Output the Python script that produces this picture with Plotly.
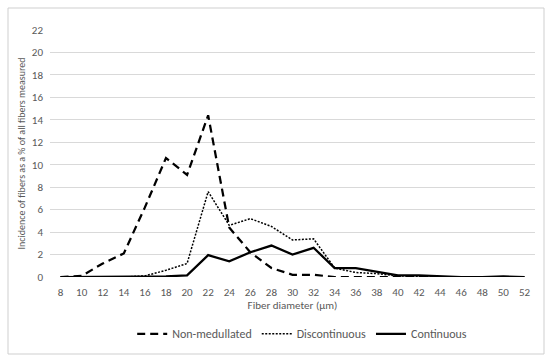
import plotly.graph_objects as go

diameters = [8, 10, 12, 14, 16, 18, 20, 22, 24, 26, 28, 30, 32, 34, 36, 38, 40, 42, 44, 46, 48, 50, 52]
non_medullated = [0, 0.1, 1.2, 2.1, 6.2, 10.6, 9.1, 14.4, 4.4, 2.2, 0.8, 0.2, 0.2, 0.0, 0.0, 0.0, 0.0, 0.0, 0, 0, 0, 0, 0]
discontinuous = [0, 0, 0, 0, 0.1, 0.6, 1.2, 7.6, 4.6, 5.2, 4.5, 3.3, 3.4, 0.8, 0.4, 0.3, 0.1, 0.05, 0, 0, 0, 0, 0]
continuous = [0, 0, 0, 0, 0, 0.05, 0.15, 1.95, 1.4, 2.2, 2.8, 2.0, 2.6, 0.8, 0.8, 0.5, 0.15, 0.15, 0.05, 0, 0, 0.05, 0]
y_ticks = [0, 2, 4, 6, 8, 10, 12, 14, 16, 18, 20, 22]

font_family = "Carlito, Lato, 'Open Sans', sans-serif"
gray = "#595959"

fig = go.Figure()
fig.add_trace(go.Scatter(x=diameters, y=non_medullated, mode="lines", name="Non-medullated",
                         line=dict(color="black", width=2.25, dash="8px,5px")))
fig.add_trace(go.Scatter(x=diameters, y=discontinuous, mode="lines", name="Discontinuous",
                         line=dict(color="black", width=1.5, dash="2px,1.5px")))
fig.add_trace(go.Scatter(x=diameters, y=continuous, mode="lines", name="Continuous",
                         line=dict(color="black", width=2.25)))

fig.update_layout(
    width=550, height=362,
    margin=dict(l=50, r=15, t=30, b=85, autoexpand=False),
    paper_bgcolor="white", plot_bgcolor="white",
    font=dict(family=font_family, size=11, color=gray),
    showlegend=True,
    legend=dict(orientation="h", x=0.52, xanchor="center", y=-0.23, yanchor="middle",
                font=dict(size=12, color=gray), itemwidth=30, tracegroupgap=0),
    xaxis=dict(range=[7, 53], tickvals=diameters, ticktext=[str(d) for d in diameters],
               showgrid=False, zeroline=False, showline=False, ticks="", automargin=False,
               ticklabelstandoff=7,
               tickfont=dict(size=11, color=gray),
               title=dict(text="Fiber diameter (µm)", font=dict(size=11, color=gray), standoff=3)),
    yaxis=dict(range=[0, 22], tickvals=y_ticks, showgrid=True, gridcolor="#d9d9d9", gridwidth=1,
               zeroline=False, showline=False, ticks="", automargin=False,
               ticklabelstandoff=6,
               tickfont=dict(size=11, color=gray),
               title=dict(text="Incidence of fibers as a % of all fibers measured",
                          font=dict(size=10, color=gray), standoff=4)),
)

fig.add_shape(type="rect", xref="paper", yref="paper",
              x0=(8 - 50) / 485, x1=(544 - 50) / 485,
              y0=(277 - 354) / 247, y1=(277 - 8) / 247,
              line=dict(color="#cfcfcf", width=1), fillcolor="rgba(0,0,0,0)", layer="above")

fig.write_html("out.html", config={"displayModeBar": False},
               post_script="document.body.style.margin='0';document.body.style.overflow='hidden';")
